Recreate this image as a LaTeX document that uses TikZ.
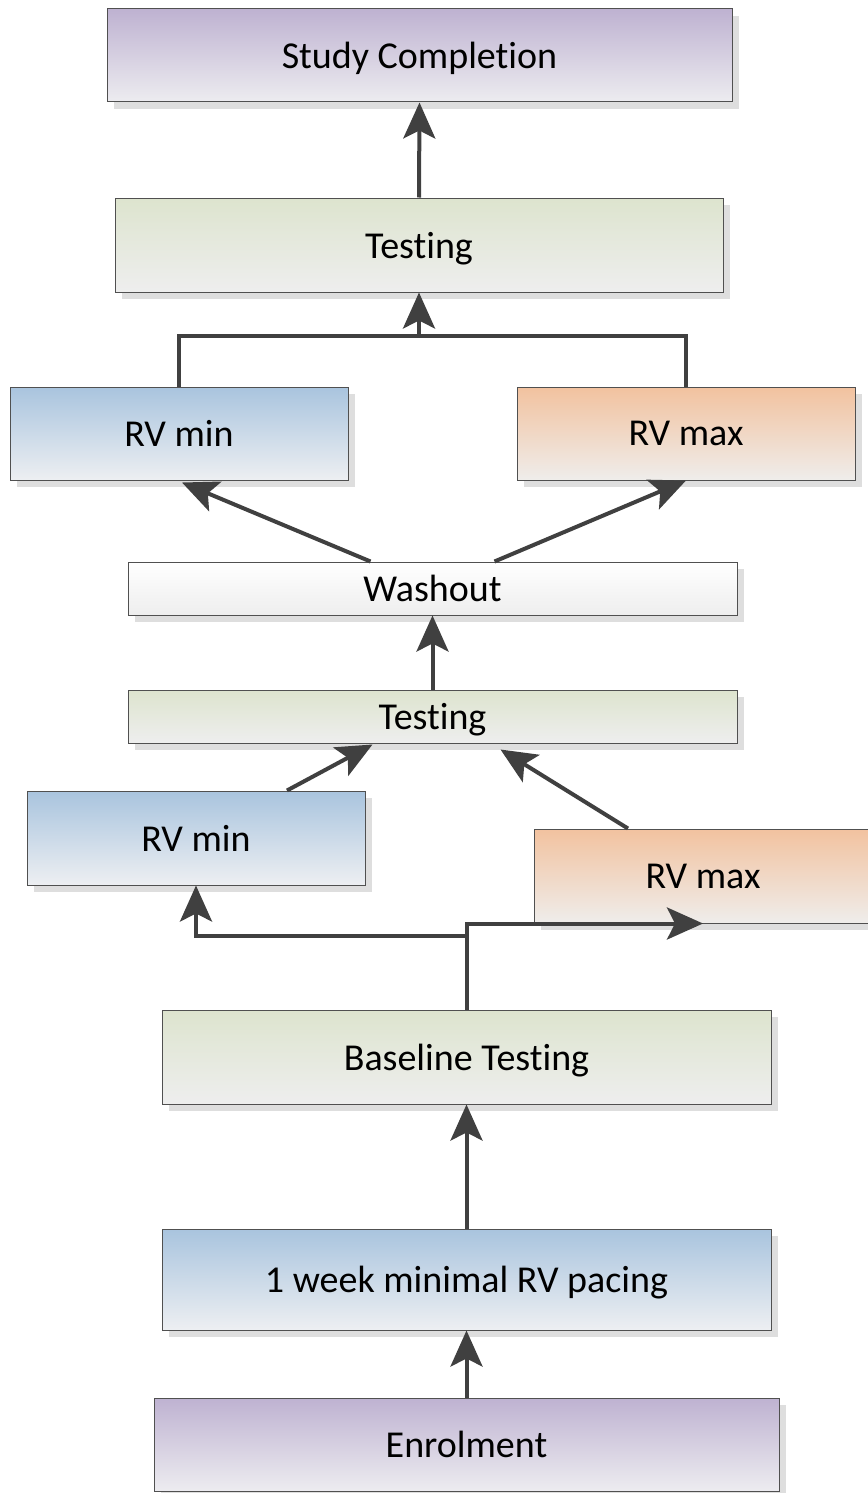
\documentclass[tikz,border=0pt]{standalone}
\usepackage{fontspec}
\setmainfont[Ligatures={NoCommon}]{Carlito}
\usetikzlibrary{arrows.meta,shadows}
\definecolor{edge}{HTML}{505050}
\definecolor{conn}{HTML}{404040}
\definecolor{purT}{HTML}{BEB2D1}\definecolor{purB}{HTML}{EDECF0}
\definecolor{grnT}{HTML}{DDE4CE}\definecolor{grnB}{HTML}{EEEEEE}
\definecolor{bluT}{HTML}{A9C4DE}\definecolor{bluB}{HTML}{EDEFF2}
\definecolor{orgT}{HTML}{F2C29F}\definecolor{orgB}{HTML}{EFEDEB}
\definecolor{whtT}{HTML}{FFFFFF}\definecolor{whtB}{HTML}{EEEEEE}
\tikzset{
  box/.style={draw=edge, line width=1pt, inner sep=0pt, text depth=0pt, font=\fontsize{38}{42}\selectfont,
    drop shadow={shadow xshift=7pt, shadow yshift=-7pt, fill=black!13, opacity=1}},
  purbox/.style={box, top color=purT, bottom color=purB},
  grnbox/.style={box, top color=grnT, bottom color=grnB},
  blubox/.style={box, top color=bluT, bottom color=bluB},
  orgbox/.style={box, top color=orgT, bottom color=orgB},
  whtbox/.style={box, top color=whtT, bottom color=whtB},
  arr/.style={draw=conn, line width=4pt, -{Stealth[length=36pt,width=32pt,inset=8pt]}},
  link/.style={draw=conn, line width=4pt}
}
\begin{document}
\begin{tikzpicture}[x=1pt,y=-1pt]
\useasboundingbox (0,0) rectangle (867,1493);
\node[purbox, minimum width=625pt, minimum height=93pt] (sc) at (419.5,55.5) {Study Completion};
\node[grnbox, minimum width=608pt, minimum height=94pt] (t1) at (419,245) {Testing};
\node[blubox, minimum width=338pt, minimum height=93pt] (min1) at (179,433.5) {RV min};
\node[orgbox, minimum width=338pt, minimum height=93pt] (max1) at (686,433.5) {RV max};
\node[whtbox, minimum width=609pt, minimum height=53pt] (wo) at (432.5,588.5) {Washout};
\node[grnbox, minimum width=609pt, minimum height=53pt] (t2) at (432.5,716.5) {Testing};
\node[blubox, minimum width=338pt, minimum height=94pt] (min2) at (196,838) {RV min};
\node[orgbox, minimum width=338pt, minimum height=94pt] (max2) at (703,876) {RV max};
\node[grnbox, minimum width=609pt, minimum height=94pt] (bt) at (466.5,1057) {Baseline Testing};
\node[blubox, minimum width=609pt, minimum height=101pt] (wk) at (466.5,1279.5) {1 week minimal RV pacing};
\node[purbox, minimum width=625pt, minimum height=93pt] (en) at (466.5,1444.5) {Enrolment};
% connectors
\draw[arr] (en.north) -- (wk.south);
\draw[arr] (wk.north) -- (bt.south);
\coordinate (jb) at (466,936);
\draw[arr] (bt.north) |- (max2.south);
\draw[arr] (jb) -| (min2.south);
\draw[arr] ([xshift=91pt]min2.north) -- ([xshift=-60pt,yshift=-1pt]t2.south);
\draw[arr] ([xshift=-75pt]max2.north) -- ([xshift=68pt,yshift=-6pt]t2.south);
\draw[arr] (t2.north) -- (wo.south);
\draw[arr] ([xshift=-62pt]wo.north) -- ([xshift=3pt,yshift=-2pt]min1.south);
\draw[arr] ([xshift=62pt]wo.north) -- (max1.south);
\coordinate (jt) at (419,336);
\draw[link] (min1.north) -- ++(0,-51) -| (max1.north);
\draw[arr] (jt) -- (t1.south);
\draw[arr] (t1.north) -- (sc.south);
\end{tikzpicture}
\end{document}
